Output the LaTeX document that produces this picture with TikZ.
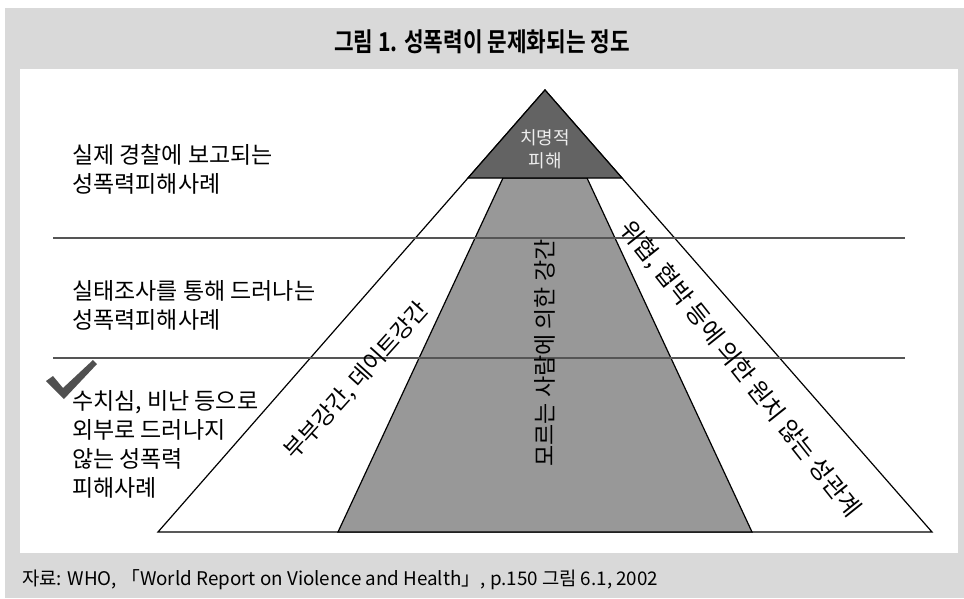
\documentclass[tikz,border=0pt]{standalone}
\usepackage{fontspec}
\setmainfont{Noto Sans CJK KR}[BoldFont=Noto Sans CJK KR Bold]
\newfontfamily\titlefont{Noto Sans CJK KR Bold}[FakeStretch=0.82]
\usetikzlibrary{positioning}

\definecolor{panelgray}{HTML}{D9D9D9}
\definecolor{capgray}{HTML}{636363}
\definecolor{midgray}{HTML}{989898}
\definecolor{linegray}{HTML}{555555}
\definecolor{checkgray}{HTML}{505050}

\begin{document}
\begin{tikzpicture}[
    x=1pt, y=-1pt,
    every node/.style={inner sep=0pt},
    layer/.style={
        draw=black,
        line width=1.2pt,
        line join=miter
    },
    outer/.style={layer, fill=white},
    stranger/.style={layer, fill=midgray},
    capstone/.style={layer, fill=capgray},
    hline/.style={draw=linegray, line width=1.6pt},
    sidelabel/.style={anchor=west, align=left, font=\fontsize{23}{29}\selectfont},
    bandlabel/.style={font=\fontsize{23}{26}\selectfont}
]
\useasboundingbox (0,0) rectangle (964,598);

% ==================== FRAME ====================
\fill[panelgray] (5,8) rectangle (964,598);
\fill[white] (20,69) rectangle (958,553);

\node[font=\titlefont\fontsize{26}{30}\selectfont] (title) at (482,42) {그림 1. 성폭력이 문제화되는 정도};
\node[anchor=west, font=\fontsize{18.8}{22}\selectfont] (source) at (22,580) {자료: WHO, 「World Report on Violence and Health」, p.150 그림 6.1, 2002};

% ==================== PYRAMID ====================
\coordinate (apex) at (545,90);
\coordinate (baseL) at (158,532);
\coordinate (baseR) at (932,532);
\coordinate (capL) at (468,178);
\coordinate (capR) at (622,178);
\coordinate (midTL) at (503,178);
\coordinate (midTR) at (587,178);
\coordinate (midBL) at (338,532);
\coordinate (midBR) at (752,532);

\path[outer] (apex) -- (baseR) -- (baseL) -- cycle;
\path[stranger] (midTL) -- (midTR) -- (midBR) -- (midBL) -- cycle;
\path[capstone] (apex) -- (capR) -- (capL) -- cycle;

% Level lines
\coordinate (upperW) at (53,238);
\coordinate (upperE) at (905,238);
\coordinate (lowerW) at (53,358);
\coordinate (lowerE) at (905,358);
\draw[hline] (upperW) -- (upperE);
\draw[hline] (lowerW) -- (lowerE);

% ==================== LABELS ====================
\node[text=white!93!black, align=center, font=\fontsize{18}{23}\selectfont] (fatal) at (545,149) {치명적\\피해};

\node[bandlabel, rotate=48] (partner) at (357,381) {부부강간, 데이트강간};
\node[bandlabel, rotate=90] (unknown) at (545,353) {모르는 사람에 의한 강간};
\node[bandlabel, font=\fontsize{24}{26}\selectfont, rotate=-51.5] (coerced) at (740,369) {위협, 협박 등에 의한 원치 않는 성관계};

\node[sidelabel] (police) at (72,169) {실제 경찰에 보고되는\\성폭력피해사례};
\node[sidelabel] (survey) at (72,305) {실태조사를 통해 드러나는\\성폭력피해사례};
\node[sidelabel] (hidden) at (72,444) {수치심, 비난 등으로\\외부로 드러나지\\않는 성폭력\\피해사례};

% Check mark
\fill[checkgray] (46,381) -- (53,376) -- (63,388) -- (93,360) -- (97,364) -- (64,399) -- cycle;

\end{tikzpicture}
\end{document}
